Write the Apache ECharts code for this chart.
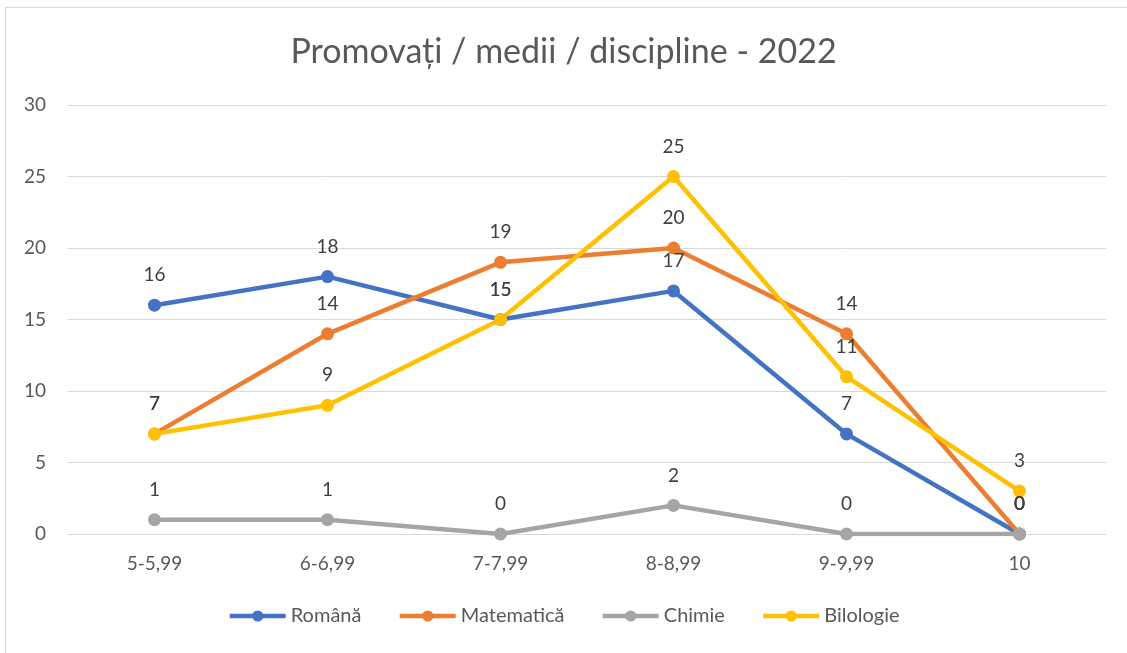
<!DOCTYPE html>
<html>
<head>
<meta charset="utf-8">
<script src="https://cdn.jsdelivr.net/npm/echarts@6/dist/echarts.min.js"></script>
<style>
  html, body { margin: 0; padding: 0; background: #fff; }
  #chart { width: 1127px; height: 653px; }
</style>
</head>
<body>
<div id="chart"></div>
<script>
// data
var categories = ['5-5,99', '6-6,99', '7-7,99', '8-8,99', '9-9,99', '10'];
var romana = [16, 18, 15, 17, 7, 0];
var matematica = [7, 14, 19, 20, 14, 0];
var chimie = [1, 1, 0, 2, 0, 0];
var biologie = [7, 9, 15, 25, 11, 3];

var seriesNames = ['Română', 'Matematică', 'Chimie', 'Bilologie'];
var seriesData = [romana, matematica, chimie, biologie];
var colors = ['#4472C4', '#ED7D31', '#A5A5A5', '#FFC000'];

var font = 'Lato, "Open Sans", sans-serif';

var myChart = echarts.init(document.getElementById('chart'));

var option = {
    color: colors,
    animation: false,
    title: {
        text: 'Promovați / medii / discipline - 2022',
        left: 'center',
        top: 30,
        textStyle: { fontFamily: font, fontSize: 34, fontWeight: 'normal', color: '#595959' }
    },
    legend: {
        bottom: 22,
        left: 'center',
        itemWidth: 56,
        itemHeight: 14,
        itemGap: 36,
        lineStyle: { width: 4.5 },
        textStyle: { fontFamily: font, fontSize: 20, color: '#595959' },
        data: seriesNames
    },
    grid: { left: 68, right: 21, top: 105, bottom: 119 },
    xAxis: {
        type: 'category',
        data: categories,
        boundaryGap: true,
        axisLine: { show: true, lineStyle: { color: '#D9D9D9', width: 1 } },
        axisTick: { show: false },
        axisLabel: { fontFamily: font, fontSize: 19, color: '#595959', margin: 20 }
    },
    yAxis: {
        type: 'value',
        min: 0,
        max: 30,
        interval: 5,
        axisLine: { show: false },
        axisTick: { show: false },
        splitLine: { lineStyle: { color: '#D9D9D9', width: 1 } },
        axisLabel: { fontFamily: font, fontSize: 19, color: '#595959', margin: 22 }
    },
    series: seriesNames.map(function (name, i) {
        return {
            name: name,
            type: 'line',
            data: seriesData[i],
            symbol: 'circle',
            symbolSize: 13,
            lineStyle: { width: 4.5, color: colors[i] },
            itemStyle: { color: colors[i] },
            label: {
                show: true,
                position: 'top',
                distance: 14,
                fontFamily: font,
                fontSize: 19,
                color: '#404040'
            }
        };
    })
};

myChart.setOption(option);
</script>
<div style="position:absolute;left:5px;top:7px;right:0;bottom:0;border:1px solid #D9D9D9;border-right:none;border-bottom:none;pointer-events:none;"></div>
</body>
</html>
